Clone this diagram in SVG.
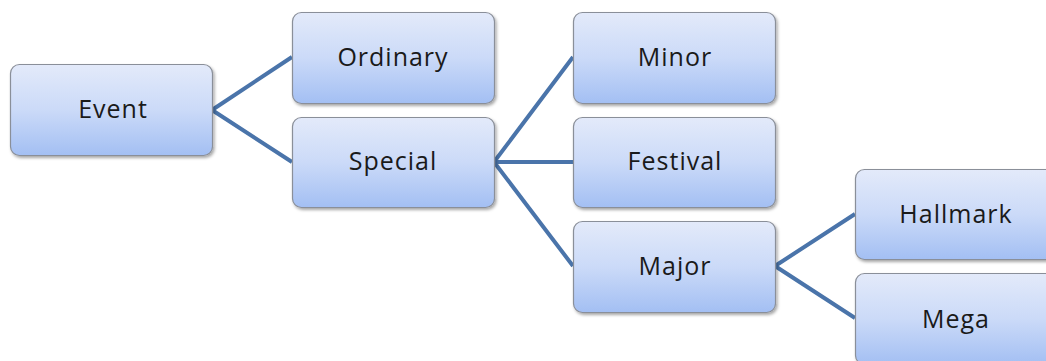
<svg xmlns="http://www.w3.org/2000/svg" width="1046" height="361" viewBox="0 0 1046 361">
  <defs>
    <linearGradient id="boxFill" x1="0" y1="0" x2="0" y2="1">
      <stop offset="0" stop-color="#e3eafa"/>
      <stop offset="0.5" stop-color="#cbdaf8"/>
      <stop offset="1" stop-color="#a3bff3"/>
    </linearGradient>
    <filter id="shadow" x="-10%" y="-10%" width="125%" height="130%">
      <feDropShadow dx="1.5" dy="2" stdDeviation="1.5" flood-color="#000" flood-opacity="0.35"/>
    </filter>
  </defs>
  <style>
    .box { fill: url(#boxFill); stroke: #8a8f99; stroke-width: 1.2; filter: url(#shadow); }
    .label { font-family: "Open Sans", "Noto Sans", sans-serif; font-size: 25px; letter-spacing: 1px; fill: #1a1a1a; text-anchor: middle; dominant-baseline: central; }
    .link { fill: none; stroke: #4a74aa; stroke-width: 4; stroke-linejoin: round; }
  </style>
  <rect width="1046" height="361" fill="#ffffff"/>

  <g id="connectors">
    <path class="link" d="M292,57 L212,110 L292,162"/>
    <path class="link" d="M573,57 L494,162 L573,266 M494,162 L573,162"/>
    <path class="link" d="M855,214 L775,266 L855,318"/>
  </g>

  <g id="node-event">
    <rect class="box" x="10.5" y="64.5" width="202" height="91" rx="9"/>
    <text class="label" x="113" y="108">Event</text>
  </g>
  <g id="node-ordinary">
    <rect class="box" x="292.5" y="12.5" width="202" height="91" rx="9"/>
    <text class="label" x="393" y="56">Ordinary</text>
  </g>
  <g id="node-special">
    <rect class="box" x="292.5" y="117.5" width="202" height="90" rx="9"/>
    <text class="label" x="393" y="160">Special</text>
  </g>
  <g id="node-minor">
    <rect class="box" x="573.5" y="12.5" width="202" height="91" rx="9"/>
    <text class="label" x="675" y="56">Minor</text>
  </g>
  <g id="node-festival">
    <rect class="box" x="573.5" y="117.5" width="202" height="90" rx="9"/>
    <text class="label" x="675" y="160">Festival</text>
  </g>
  <g id="node-major">
    <rect class="box" x="573.5" y="221.5" width="202" height="91" rx="9"/>
    <text class="label" x="675" y="265">Major</text>
  </g>
  <g id="node-hallmark">
    <rect class="box" x="855.5" y="169.5" width="202" height="90" rx="9"/>
    <text class="label" x="956" y="213">Hallmark</text>
  </g>
  <g id="node-mega">
    <rect class="box" x="855.5" y="273.5" width="202" height="91" rx="9"/>
    <text class="label" x="956" y="318">Mega</text>
  </g>
</svg>
